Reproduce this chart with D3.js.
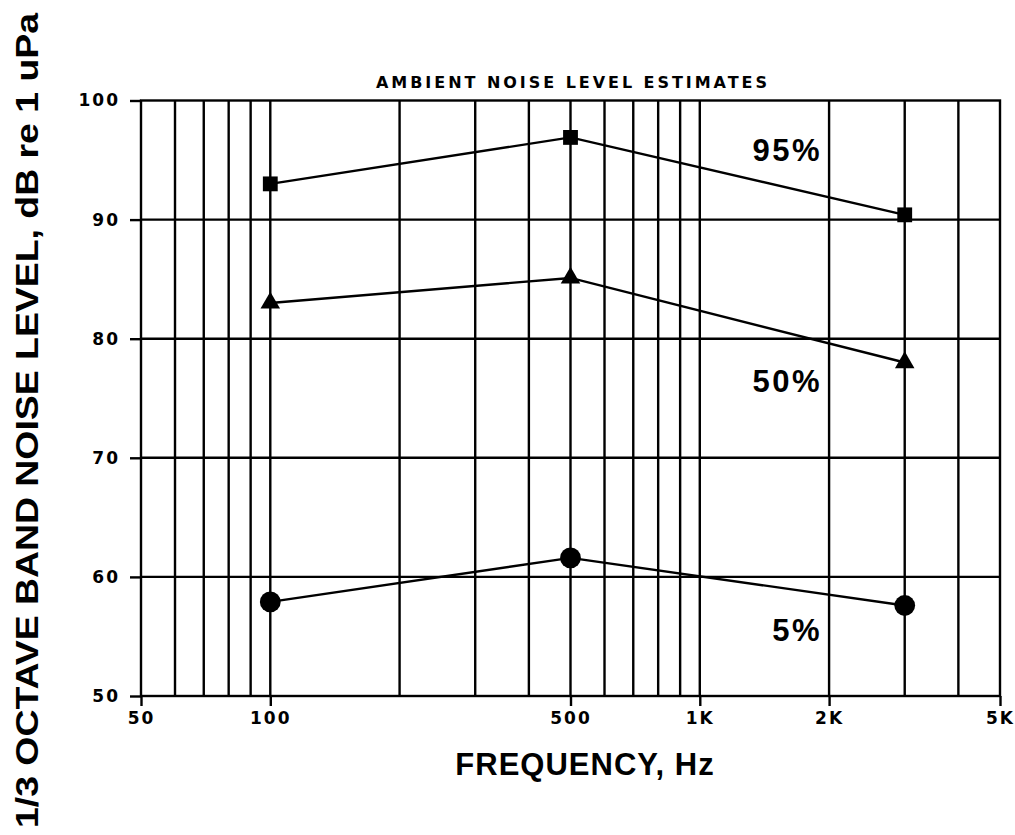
<!DOCTYPE html>
<html>
<head>
<meta charset="utf-8">
<script src="https://cdn.jsdelivr.net/npm/d3@7"></script>
<style>
  body { margin: 0; background: #fff; }
  svg { display: block; }
  .tick text { font-family: "DejaVu Sans", sans-serif; font-weight: bold; }
</style>
</head>
<body>
<script>
// values
var freqs = [100, 500, 3000];
var pct95 = [93.0, 96.9, 90.4];
var pct50 = [83.0, 85.1, 78.0];
var pct05 = [57.9, 61.6, 57.6];
var seriesNames = ["95%", "50%", "5%"];

var xTickValues = [50, 100, 500, 1000, 2000, 5000];
var xTickLabels = ["50", "100", "500", "1K", "2K", "5K"];
var yTickValues = [50, 60, 70, 80, 90, 100];
var xGridValues = [60, 70, 80, 90, 100, 200, 300, 400, 500, 600, 700, 800, 900, 1000, 2000, 3000, 4000];

var width = 1015, height = 835;
// plot box (note: "top" is reserved on window, so use plot_*)
var plot_left = 141, plot_right = 1000, plot_top = 100.5, plot_bottom = 696;

var svg = d3.select("body").append("svg")
  .attr("width", width).attr("height", height);

var x = d3.scaleLog().domain([50, 5000]).range([plot_left, plot_right]);
var y = d3.scaleLinear().domain([50, 100]).range([plot_bottom, plot_top]);

// vertical grid
svg.append("g").selectAll("line")
  .data(xGridValues).enter().append("line")
  .attr("x1", function(d){ return x(d); })
  .attr("x2", function(d){ return x(d); })
  .attr("y1", plot_top).attr("y2", plot_bottom)
  .attr("stroke", "#000").attr("stroke-width", 2.4);

// horizontal grid
svg.append("g").selectAll("line")
  .data(yTickValues.slice(1, -1)).enter().append("line")
  .attr("x1", plot_left).attr("x2", plot_right)
  .attr("y1", function(d){ return y(d); })
  .attr("y2", function(d){ return y(d); })
  .attr("stroke", "#000").attr("stroke-width", 2.4);

// frame
svg.append("rect")
  .attr("x", plot_left).attr("y", plot_top)
  .attr("width", plot_right - plot_left).attr("height", plot_bottom - plot_top)
  .attr("fill", "none").attr("stroke", "#000").attr("stroke-width", 2.4);

// x axis
var xAxis = d3.axisBottom(x)
  .tickValues(xTickValues)
  .tickSize(10)
  .tickPadding(6)
  .tickFormat(function(d, i){ return xTickLabels[i]; });

var gx = svg.append("g")
  .attr("transform", "translate(0," + plot_bottom + ")")
  .call(xAxis);
gx.select(".domain").remove();
gx.selectAll(".tick line").attr("stroke-width", 2.4);
gx.selectAll(".tick text")
  .attr("font-size", 17).attr("letter-spacing", 2)
  .attr("fill", "#000");

// y axis
var yAxis = d3.axisLeft(y)
  .tickValues(yTickValues)
  .tickSize(11)
  .tickPadding(10);

var gy = svg.append("g")
  .attr("transform", "translate(" + plot_left + ",0)")
  .call(yAxis);
gy.select(".domain").remove();
gy.selectAll(".tick line").attr("stroke-width", 2.4);
gy.selectAll(".tick text")
  .attr("font-size", 17).attr("letter-spacing", 2)
  .attr("fill", "#000");

// series
var series = [
  { name: seriesNames[0], values: pct95, symbol: d3.symbolSquare, size: 220 },
  { name: seriesNames[1], values: pct50, symbol: d3.symbolTriangle, size: 165 },
  { name: seriesNames[2], values: pct05, symbol: d3.symbolCircle, size: 340 }
];

var line = d3.line()
  .x(function(d){ return x(d[0]); })
  .y(function(d){ return y(d[1]); });

series.forEach(function(s){
  var pts = freqs.map(function(f, i){ return [f, s.values[i]]; });
  svg.append("path")
    .datum(pts)
    .attr("d", line)
    .attr("fill", "none")
    .attr("stroke", "#000")
    .attr("stroke-width", 2.4);
  svg.append("g").selectAll("path")
    .data(pts).enter().append("path")
    .attr("d", d3.symbol().type(s.symbol).size(s.size))
    .attr("transform", function(d){ return "translate(" + x(d[0]) + "," + y(d[1]) + ")"; })
    .attr("fill", "#000");
});

// series labels, baseline given in dB below the 3K point
var labelDrop = [-4.5, 2.5, 3.0];
series.forEach(function(s, i){
  svg.append("text")
    .attr("x", 822)
    .attr("y", y(s.values[2] - labelDrop[i]))
    .attr("text-anchor", "end")
    .attr("font-family", "Liberation Sans, Arial, sans-serif")
    .attr("font-weight", "bold")
    .attr("font-size", 31)
    .attr("letter-spacing", 2.5)
    .text(s.name);
});

// title
svg.append("text")
  .attr("x", 376).attr("y", 88)
  .attr("textLength", 391)
  .attr("lengthAdjust", "spacing")
  .attr("font-family", "DejaVu Sans, sans-serif")
  .attr("font-weight", "bold")
  .attr("font-size", 16)
  .text("AMBIENT NOISE LEVEL ESTIMATES");

// x axis title
svg.append("text")
  .attr("x", 585).attr("y", 775)
  .attr("text-anchor", "middle")
  .attr("font-family", "Liberation Sans, Arial, sans-serif")
  .attr("font-weight", "bold")
  .attr("font-size", 31)
  .attr("letter-spacing", 1)
  .text("FREQUENCY, Hz");

// y axis title
svg.append("text")
  .attr("transform", "translate(38,828) rotate(-90)")
  .attr("x", 0).attr("y", 0)
  .attr("textLength", 815)
  .attr("lengthAdjust", "spacingAndGlyphs")
  .attr("font-family", "Liberation Sans, Arial, sans-serif")
  .attr("font-weight", "bold")
  .attr("font-size", 32)
  .text("1/3 OCTAVE BAND NOISE LEVEL, dB re 1 uPa");
</script>
</body>
</html>
